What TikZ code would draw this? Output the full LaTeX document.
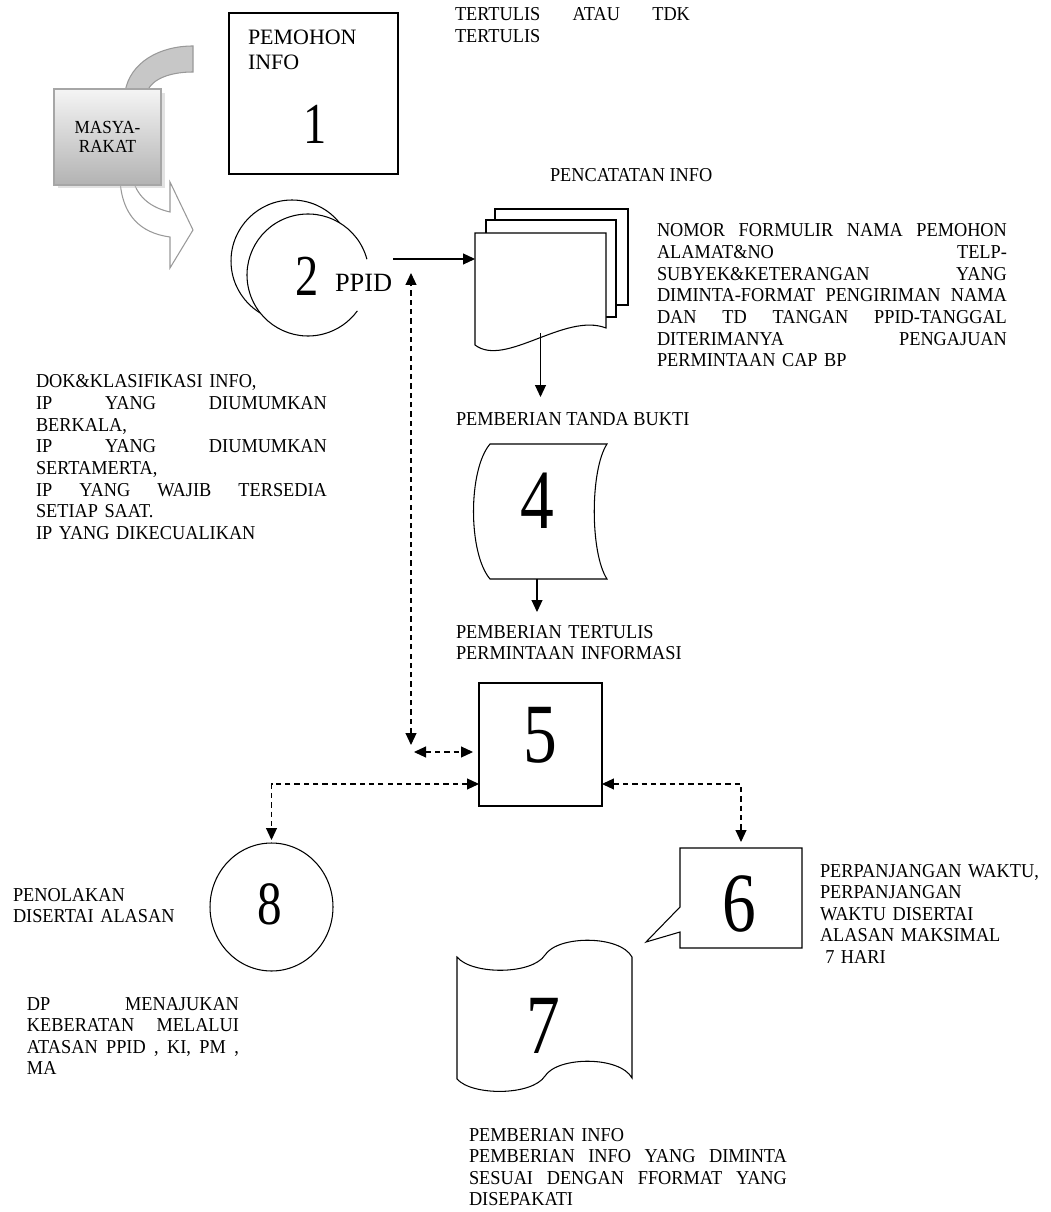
\documentclass[tikz,border=0pt]{standalone}
\usepackage{fontspec}
\setmainfont{Liberation Serif}[FakeStretch=0.93]
\newfontfamily\numfamily{Liberation Serif}[FakeStretch=0.8]
\newfontfamily\widefamily{Liberation Serif}
\usetikzlibrary{positioning, arrows.meta, calc, shapes.geometric, shadows}

\newcommand{\txtfont}{\fontsize{11.2}{12.3}\selectfont}
\newcommand{\jl}[1]{{\spaceskip=0pt\xspaceskip=0pt\makebox[\linewidth][s]{#1}}}

\begin{document}
\begin{tikzpicture}[
  x=0.02cm, y=-0.02cm,
  >={Triangle[length=0.24cm, width=0.22cm]},
  line width=0.6pt,
  every node/.style={inner sep=0pt, outer sep=0pt},
  box/.style={draw, rectangle},
  hidden/.style={rectangle},
  shp/.style={draw, fill=white},
  txt/.style={font=\txtfont, anchor=base west},
  blk/.style={txt, align=left},
  numsm/.style={font=\numfamily\fontsize{33}{33}\selectfont},
  numbig/.style={font=\numfamily\fontsize{48}{48}\selectfont},
  arr/.style={->},
  darr/.style={<->, dash pattern=on 3pt off 2.3pt}
]
\useasboundingbox (0,0) rectangle (1050,1212);

%--- Masyarakat and its curved arrows ---
\draw[draw=gray!80, fill=black!22] (125,92) .. controls (130,62) and (160,46) .. (193,46)
  -- (193,72) .. controls (172,72) and (152,78) .. (147,92) -- cycle;
\draw[draw=gray!80, fill=white] (120,180) .. controls (122,215) and (140,233) .. (170,237)
  -- (170,268) -- (193,230) -- (170,182) -- (170,212)
  .. controls (152,208) and (138,198) .. (133,180) -- cycle;
\node[draw=gray!70, top color=gray!8, bottom color=gray!60,
      minimum width=2.14cm, minimum height=1.92cm,
      drop shadow={shadow xshift=2pt, shadow yshift=-2pt, fill=gray!45},
      font=\fontsize{10.5}{10.8}\selectfont, align=center] (masy) at (107.5,137) {MASYA-\\RAKAT};

%--- 1: Pemohon ---
\node[box, minimum width=3.38cm, minimum height=3.22cm] (pemohon) at (313.5,93.5) {};
\node[blk, text width=2.8cm, font=\widefamily\fontsize{12.5}{14.2}\selectfont] (pemohonlbl) at (248,45) {PEMOHON\\INFO};
\node[numsm] (num1) at (315,124) {1};
\node[blk, text width=4.7cm] (tertulis) at (455,21) {\jl{TERTULIS ATAU TDK}\\TERTULIS};

%--- 2: PPID ---
\node[circle, draw, minimum size=2.44cm] (ppidback) at (292,261) {};
\node[circle, fill=white, minimum size=2.44cm] (ppid) at (308,275) {};
\draw (ppid.15) arc[start angle=15, end angle=324, radius=1.22cm];
\node[numsm] (num2) at (307,276) {2};
\node[txt, font=\widefamily\fontsize{15}{15}\selectfont] (ppidlbl) at (335,292) {PPID};

%--- Pencatatan info ---
\node[hidden, minimum width=2.62cm, minimum height=2.24cm] (catat) at (540.5,289) {};
\draw[shp] (495,209) rectangle (628,305);
\draw[shp] (486,220) rectangle (616,317);
\draw[shp] (catat.north west) -- (catat.north east) -- (606,328)
  .. controls (565,312) and (505,368) .. (catat.south west) -- cycle;
\node[txt] (catatlbl) at (550,182) {PENCATATAN INFO};
\node[blk, text width=7cm] (formulir) at (657,237) {%
  \jl{NOMOR FORMULIR NAMA PEMOHON}\\
  \jl{ALAMAT\&NO TELP-}\\
  \jl{SUBYEK\&KETERANGAN YANG}\\
  \jl{DIMINTA-FORMAT PENGIRIMAN NAMA}\\
  \jl{DAN TD TANGAN PPID-TANGGAL}\\
  \jl{DITERIMANYA PENGAJUAN}\\
  PERMINTAAN CAP BP};

\coordinate (ppidout) at (393,259);
\draw[arr] (ppidout) -- (ppidout -| catat.west);

%--- Dokumentasi ---
\node[blk, text width=5.82cm] (dok) at (36,388) {%
  DOK\&KLASIFIKASI INFO,\\
  \jl{IP YANG DIUMUMKAN}\\
  BERKALA,\\
  \jl{IP YANG DIUMUMKAN}\\
  SERTAMERTA,\\
  \jl{IP YANG WAJIB TERSEDIA}\\
  SETIAP SAAT.\\
  IP YANG DIKECUALIKAN};

%--- 4: Tanda bukti ---
\node[txt] (bukti) at (456,426) {PEMBERIAN TANDA BUKTI};
\coordinate (buktitop) at (540.5,397);
\draw[arr] ([yshift=0.24cm]catat.south) -- (buktitop);
\node[hidden, minimum width=2.7cm, minimum height=2.7cm] (tanda4) at (537,511.5) {};
\draw[shp] (607,444) -- (490,444) .. controls (468,470) and (468,553) .. (490,579)
  -- (607,579) .. controls (590,553) and (590,470) .. cycle;
\node[numbig] (num4) at (537,501) {4};
\node[blk, text width=5cm] (tertulis5) at (456,638) {PEMBERIAN TERTULIS\\PERMINTAAN INFORMASI};
\coordinate (tertulistop) at (537,612);
\draw[arr] (tanda4.south) -- (tertulistop);

%--- 5 ---
\node[box, minimum size=2.46cm] (box5) at (540.5,744.5) {};
\node[numbig] (num5) at (540,735) {5};

%--- 8: Penolakan ---
\node[ellipse, draw, minimum width=2.46cm, minimum height=2.56cm] (ring8) at (271.5,907) {};
\node[numsm, font=\numfamily\fontsize{35}{35}\selectfont] (num8) at (270,904) {8};
\node[blk, text width=3.5cm] (tolak) at (13,901) {PENOLAKAN\\DISERTAI ALASAN};
\node[blk, text width=4.24cm] (keberatan) at (27,1010) {%
  \jl{DP MENAJUKAN}\\
  \jl{KEBERATAN MELALUI}\\
  \jl{ATASAN PPID , KI, PM ,}\\
  MA};

%--- 6: Perpanjangan ---
\node[hidden, minimum width=2.44cm, minimum height=2cm] (box6) at (741,898) {};
\draw[shp] (box6.north west) -- (box6.north east) -- (box6.south east) -- (box6.south west)
  -- (680,932) -- (646,942) -- (680,907) -- cycle;
\node[numbig] (num6) at (739,904) {6};
\node[blk, text width=4.5cm] (waktu) at (820,877) {%
  PERPANJANGAN WAKTU,\\
  PERPANJANGAN\\
  WAKTU DISERTAI\\
  ALASAN MAKSIMAL\\
  \hspace{3pt}7 HARI};

%--- 7: Pemberian info ---
\node[hidden, minimum width=3.5cm, minimum height=2.7cm] (box7) at (544.5,1018) {};
\draw[shp] (457,957) .. controls (472,975) and (532,975) .. (545,955)
  .. controls (558,935) and (620,935) .. (632,957) -- (632,1078)
  .. controls (620,1056) and (558,1056) .. (545,1076)
  .. controls (532,1096) and (472,1096) .. (457,1079) -- cycle;
\node[numbig] (num7) at (543,1026) {7};
\node[blk, text width=6.36cm] (info) at (469,1141) {%
  PEMBERIAN INFO\\
  \jl{PEMBERIAN INFO YANG DIMINTA}\\
  \jl{SESUAI DENGAN FFORMAT YANG}\\
  DISEPAKATI};

%--- Dashed links ---
\coordinate (dtop) at (411,273);
\coordinate (dbot) at (411,745);
\draw[darr] (dbot) -- (dtop);
\coordinate (dmid) at (414,752);
\draw[darr, shorten >=0.12cm] (dmid) -- (dmid -| box5.west);
\draw[darr, shorten >=0.06cm] ([yshift=0.44cm]box5.south west) -| (ring8.north);
\draw[darr, shorten >=0.12cm] ([yshift=0.44cm]box5.south east) -| (box6.north);

\end{tikzpicture}
\end{document}
